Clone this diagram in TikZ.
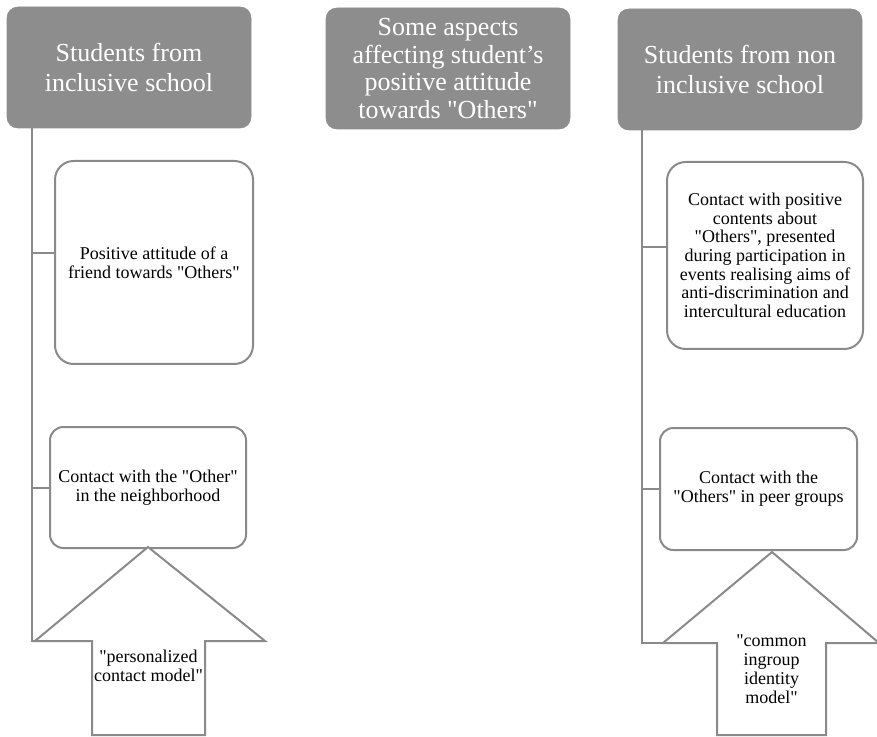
\documentclass[tikz,border=0pt]{standalone}
\usepackage{fontspec}
\setmainfont{Liberation Serif}[Ligatures=TeXOff]
\definecolor{hdr}{RGB}{141,141,141}
\definecolor{ln}{RGB}{138,138,138}
\tikzset{
  hdrbox/.style={rectangle, rounded corners=8pt, fill=hdr, draw=hdr, text=white,
    font=\fontsize{19.5}{22.5}\selectfont, align=center, inner sep=0pt},
  itembox/.style={rectangle, rounded corners=10pt, draw=ln, line width=1.5pt, fill=white,
    font=\fontsize{13.5}{14}\selectfont, align=center, inner sep=0pt},
  link/.style={draw=ln, line width=1.5pt},
  arrowtxt/.style={font=\fontsize{13.5}{14.3}\selectfont, align=center, inner sep=0pt}
}
\begin{document}
\begin{tikzpicture}[x=0.75pt,y=-0.75pt]
\useasboundingbox (0,0) rectangle (877,737);
% headers
\node[hdrbox, minimum width=183pt, minimum height=90.75pt] (hL) at (129,67.5)
  {Students from\\inclusive school};
\node[hdrbox, font=\fontsize{19.5}{20.8}\selectfont, minimum width=183pt, minimum height=90.75pt] (hM) at (448,68.5)
  {Some aspects\\affecting student’s\\positive attitude\\towards "Others"};
\node[hdrbox, minimum width=183pt, minimum height=90.75pt] (hR) at (740,69.5)
  {Students from non\\inclusive school};
% item boxes
\node[itembox, rounded corners=14pt, minimum width=148.5pt, minimum height=152.25pt] (b1) at (154,262.5)
  {Positive attitude of a\\friend towards "Others"};
\node[itembox, minimum width=147pt, minimum height=90.75pt] (b2) at (148,487.5)
  {Contact with the "Other"\\in the neighborhood};
\node[itembox, rounded corners=14pt, minimum width=147pt, minimum height=140.25pt] (b3) at (765,255.5)
  {Contact with positive\\contents about\\"Others", presented\\during participation in\\events realising aims of\\anti-discrimination and\\intercultural education};
\node[itembox, minimum width=147.75pt, minimum height=91.5pt] (b4) at (758.5,489)
  {Contact with the\\"Others" in peer groups};
% left block arrow
\coordinate (aLt) at (148,547);
\coordinate (aLl) at (35,641);
\coordinate (aLr) at (265,641);
\draw[link, line join=miter, fill=white] (aLt) -- (aLr) -- (205,641) -- (205,735) -- (92,735) -- (92,641) -- (aLl) -- cycle;
\node[arrowtxt] (tL) at (148.5,666) {"personalized\\contact model"};
% right block arrow
\coordinate (aRt) at (772,552);
\coordinate (aRl) at (663,643);
\coordinate (aRr) at (879,643);
\draw[link, line join=miter, fill=white] (aRt) -- (aRr) -- (826,643) -- (826,735) -- (717,735) -- (717,643) -- (aRl) -- cycle;
\node[arrowtxt] (tR) at (771.5,669) {"common\\ingroup\\identity\\model"};
% trunks
\coordinate (trL) at (32,0);
\coordinate (trR) at (642,0);
\draw[link] (hL.south -| trL) -- (aLl -| trL) -- (aLl);
\draw[link] (hR.south -| trR) -- (aRl -| trR) -- (aRl);
% branches
\draw[link] ([yshift=7pt]b1.west -| trL) -- ([yshift=7pt]b1.west);
\draw[link] (b2.west -| trL) -- (b2.west);
\draw[link] ([yshift=6pt]b3.west -| trR) -- ([yshift=6pt]b3.west);
\draw[link] (b4.west -| trR) -- (b4.west);
\end{tikzpicture}
\end{document}
